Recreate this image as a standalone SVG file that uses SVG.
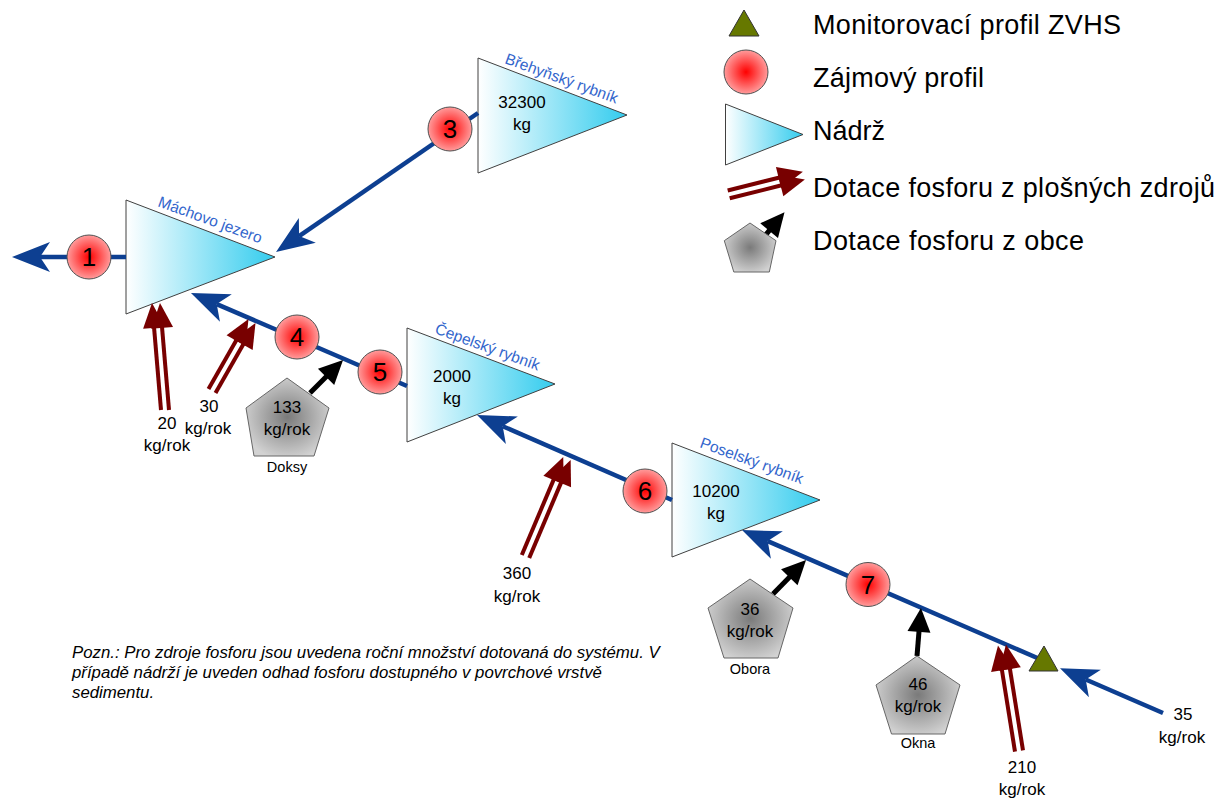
<svg xmlns="http://www.w3.org/2000/svg" width="1230" height="802" viewBox="0 0 1230 802">
<style>
text{font-family:"Liberation Sans",Arial,sans-serif;fill:#000}
.num{font-size:26px;text-anchor:middle}
.val{font-size:17px;text-anchor:middle}
.lbl{font-size:15.5px;fill:#3366cc}
.name{font-size:14.5px;text-anchor:middle}
.leg{font-size:27px}
.note{font-size:16.8px;font-style:italic}
.res{fill:url(#gRes);stroke:#404040;stroke-width:1}
.prof{fill:url(#gProf);stroke:#505050;stroke-width:1}
.obec{fill:url(#gObec);stroke:#666;stroke-width:1}
.mon{fill:#667800;stroke:#333;stroke-width:1}
.flow{fill:none;stroke:#0d3f91;stroke-width:4.5;marker-end:url(#mBlue)}
.area{fill:none;stroke:#780000;stroke-width:4;marker-end:url(#mRed)}
.town{fill:none;stroke:#000;stroke-width:5;marker-end:url(#mBlack)}
</style>
<defs>
<linearGradient id="gRes" x1="0" y1="0" x2="1" y2="0">
<stop offset="0" stop-color="#ffffff"/>
<stop offset="1" stop-color="#33ccee"/>
</linearGradient>
<radialGradient id="gProf" cx="0.5" cy="0.5" r="0.5">
<stop offset="0" stop-color="#ff0000"/>
<stop offset="1" stop-color="#ff9c9c"/>
</radialGradient>
<radialGradient id="gObec" cx="0.5" cy="0.5" r="0.55">
<stop offset="0" stop-color="#7a7a7a"/>
<stop offset="1" stop-color="#d2d2d2"/>
</radialGradient>
<marker id="mBlue" viewBox="-40 -16 42 32" markerWidth="42" markerHeight="32" refX="-28" refY="0" orient="auto" markerUnits="userSpaceOnUse">
<path d="M0,0 L-38,-15 L-28,0 L-38,15 Z" fill="#0d3f91"/>
</marker>
<marker id="mRed" viewBox="-27 -12 29 24" markerWidth="29" markerHeight="24" refX="-24" refY="0" orient="auto" markerUnits="userSpaceOnUse">
<path d="M0,0 L-25,-11 L-25,11 Z" fill="#780000"/>
</marker>
<marker id="mBlack" viewBox="-26 -12 28 24" markerWidth="28" markerHeight="24" refX="-20" refY="0" orient="auto" markerUnits="userSpaceOnUse">
<path d="M0,0 L-24,-11.5 L-24,11.5 Z" fill="#000"/>
</marker>
</defs>

<g id="res-machovo">
<polygon class="res" points="126,200 126,314 275,257"/>
<text class="lbl" transform="translate(157,206) rotate(20)">Máchovo jezero</text>
</g>
<g id="res-brehynsky">
<polygon class="res" points="478,58 478,173 627,115"/>
<text class="lbl" transform="translate(504,63) rotate(20)">Břehyňský rybník</text>
<text class="val" x="522" y="108">32300</text>
<text class="val" x="522" y="130">kg</text>
</g>
<g id="res-cepelsky">
<polygon class="res" points="407,328 407,442 555,384"/>
<text class="lbl" transform="translate(434,333) rotate(20)">Čepelský rybník</text>
<text class="val" x="452" y="382">2000</text>
<text class="val" x="452" y="404">kg</text>
</g>
<g id="res-poselsky">
<polygon class="res" points="672,443 672,557 820,500"/>
<text class="lbl" transform="translate(699,447) rotate(20)">Poselský rybník</text>
<text class="val" x="716" y="497">10200</text>
<text class="val" x="716" y="519">kg</text>
</g>

<g id="connectors">
<path class="flow" d="M126,257 L40,257"/>
<path class="flow" d="M478,113 L299.1,236.1"/>
<path class="flow" d="M407,386 L216.7,304.1"/>
<path class="flow" d="M672,500 L502.7,426.2"/>
<path class="flow" d="M1042,660 L767.7,541.1"/>
<path class="flow" d="M1163,713 L1085.7,679.5"/>
<path class="area" d="M161,410 L154,326.9"/>
<path class="area" d="M169,410 L162,326.9"/>
<path class="area" d="M208.5,389 L236.6,339.8"/>
<path class="area" d="M215.5,393 L243.6,343.8"/>
<path class="area" d="M521.8,555 L553.9,479.1"/>
<path class="area" d="M529.2,558 L561.3,482.1"/>
<path class="area" d="M1015,751.6 L1001.8,669.3"/>
<path class="area" d="M1023,750.4 L1009.8,668.1"/>
<path class="town" d="M310,393 L328.9,374.1"/>
<path class="town" d="M773,594 L792.1,574.4"/>
<path class="town" d="M917,656 L919.3,627.9"/>
</g>

<g id="profile-1"><circle class="prof" cx="89" cy="257" r="22"/><text class="num" x="89" y="266">1</text></g>
<g id="profile-3"><circle class="prof" cx="450" cy="129" r="22"/><text class="num" x="450" y="138">3</text></g>
<g id="profile-4"><circle class="prof" cx="297" cy="337" r="22"/><text class="num" x="297" y="346">4</text></g>
<g id="profile-5"><circle class="prof" cx="380" cy="372" r="22"/><text class="num" x="380" y="381">5</text></g>
<g id="profile-6"><circle class="prof" cx="645" cy="491" r="22"/><text class="num" x="645" y="500">6</text></g>
<g id="profile-7"><circle class="prof" cx="868" cy="584.5" r="22"/><text class="num" x="868" y="593.5">7</text></g>

<g id="monitor-zvhs"><polygon class="mon" points="1029,671 1058,671 1044,646"/></g>

<g id="obec-doksy">
<polygon class="obec" points="287,378 329,408 314,456 254,456 246,408"/>
<text class="val" x="287" y="413">133</text>
<text class="val" x="287" y="435">kg/rok</text>
<text class="name" x="287" y="472">Doksy</text>
</g>
<g id="obec-obora">
<polygon class="obec" points="750,579 793,608 778,658 724,658 708,608"/>
<text class="val" x="750" y="615">36</text>
<text class="val" x="750" y="637">kg/rok</text>
<text class="name" x="750" y="674">Obora</text>
</g>
<g id="obec-okna">
<polygon class="obec" points="917,656 960,685 945,734 891.5,734 876,685"/>
<text class="val" x="918" y="690">46</text>
<text class="val" x="918" y="712">kg/rok</text>
<text class="name" x="918" y="748">Okna</text>
</g>

<g id="src-20"><text class="val" x="167" y="429">20</text><text class="val" x="167" y="451">kg/rok</text></g>
<g id="src-30"><text class="val" x="209" y="412">30</text><text class="val" x="208" y="434">kg/rok</text></g>
<g id="src-360"><text class="val" x="517" y="579">360</text><text class="val" x="517" y="602">kg/rok</text></g>
<g id="src-210"><text class="val" x="1022" y="773">210</text><text class="val" x="1022" y="795">kg/rok</text></g>
<g id="src-35"><text class="val" x="1183" y="720">35</text><text class="val" x="1182" y="743">kg/rok</text></g>

<g id="legend">
<polygon class="mon" points="729,36 759,36 744,10"/>
<text class="leg" x="813" y="34" textLength="308" lengthAdjust="spacing">Monitorovací profil ZVHS</text>
<circle class="prof" cx="746" cy="72" r="22"/>
<text class="leg" x="813" y="87" textLength="171" lengthAdjust="spacing">Zájmový profil</text>
<polygon class="res" points="725.5,104 725.5,165 803,134.5"/>
<text class="leg" x="813" y="139.5" textLength="72" lengthAdjust="spacing">Nádrž</text>
<path class="area" d="M727.7,190.5 L779.6,177.5"/>
<path class="area" d="M729.7,198.3 L781.6,185.3"/>
<text class="leg" x="813" y="197" textLength="402" lengthAdjust="spacing">Dotace fosforu z plošných zdrojů</text>
<path class="town" d="M764.2,236.6 L771.7,227.6"/>
<polygon class="obec" points="750,223 776,240.7 769.3,272 733.8,272 724.3,240.7"/>
<text class="leg" x="813" y="250" textLength="271" lengthAdjust="spacing">Dotace fosforu z obce</text>
</g>

<g id="note">
<text class="note" x="72" y="658">Pozn.: Pro zdroje fosforu jsou uvedena roční množství dotovaná do systému. V</text>
<text class="note" x="72" y="678">případě nádrží je uveden odhad fosforu dostupného v povrchové vrstvě</text>
<text class="note" x="72" y="698">sedimentu.</text>
</g>
</svg>
